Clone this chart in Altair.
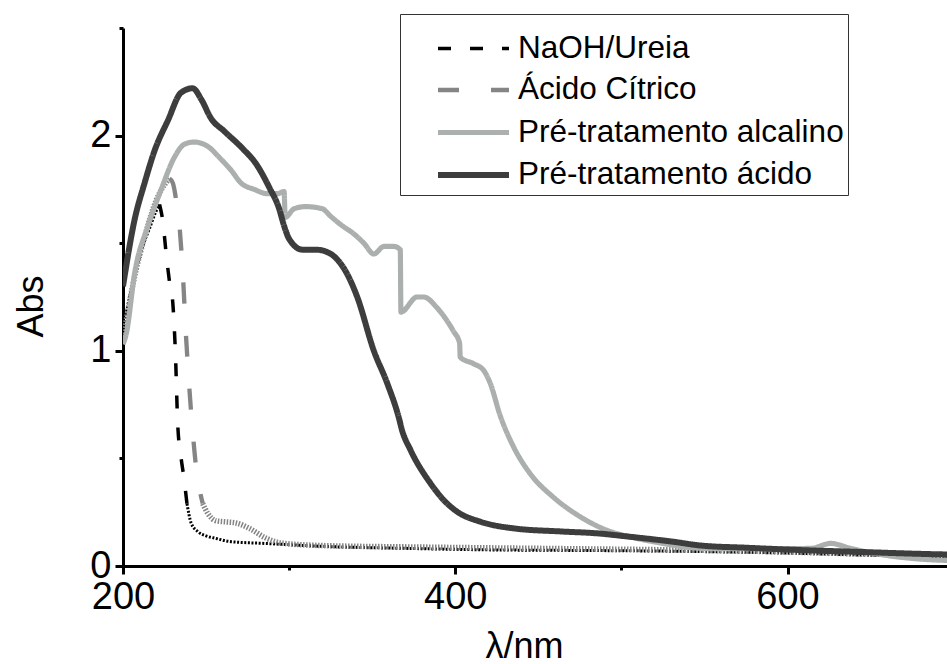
import altair as alt
import pandas as pd

SERIES = ["NaOH/Ureia", "Ácido Cítrico", "Pré-tratamento alcalino", "Pré-tratamento ácido"]
COLORS = ["#000000", "#858585", "#abafae", "#3d3d3d"]
DASHES = [[13, 19], [21, 32], [1, 0], [1, 0]]
WIDTHS = [3.5, 6, 3.6, 3.2]

# NaOH/Ureia
naoh_x = [200, 204, 208, 212, 216, 220, 222, 224, 226, 228, 230, 231.5, 233, 235, 236.5, 238.5,
          241, 245, 250, 256, 265, 285, 325, 370, 420, 480, 540, 600, 650, 700]
naoh_y = [1.10, 1.25, 1.38, 1.49, 1.57, 1.65, 1.68, 1.60, 1.45, 1.32, 1.22, 1.00, 0.65, 0.50, 0.42, 0.29,
          0.20, 0.16, 0.14, 0.128, 0.113, 0.105, 0.09, 0.082, 0.075, 0.072, 0.068, 0.06, 0.05, 0.043]

# Ácido Cítrico
cit_x = [200, 204, 208, 212, 216, 220, 224, 228, 230, 232, 234, 236, 238, 240, 242, 244, 246, 248,
         251, 256, 262, 268, 276, 286, 296, 320, 380, 450, 530, 600, 650, 700]
cit_y = [1.05, 1.23, 1.38, 1.50, 1.61, 1.70, 1.76, 1.80, 1.78, 1.70, 1.58, 1.36, 1.06, 0.82, 0.62, 0.46, 0.36, 0.29,
         0.245, 0.21, 0.205, 0.20, 0.175, 0.13, 0.106, 0.095, 0.088, 0.082, 0.075, 0.065, 0.055, 0.05]

# Pré-tratamento alcalino
alc_x = [200, 202, 207, 215, 223, 231, 237, 243, 251, 259, 265, 271, 279, 287, 293, 297, 297.6, 303, 310,
         320, 325, 334, 337, 345, 351, 357, 363, 366.9, 367.3, 377, 381, 389, 395, 399, 402.6, 403, 411,
         417, 421, 427, 435, 445, 459, 475, 491, 505, 525, 542, 560, 588, 614, 626, 638, 658, 682, 700]
alc_y = [1.03, 1.08, 1.36, 1.58, 1.75, 1.90, 1.96, 1.97, 1.95, 1.89, 1.84, 1.78, 1.75, 1.73, 1.73, 1.74, 1.62, 1.66, 1.67,
         1.66, 1.625, 1.57, 1.555, 1.50, 1.45, 1.485, 1.485, 1.47, 1.18, 1.25, 1.25, 1.20, 1.14, 1.09, 1.036, 0.97, 0.94,
         0.91, 0.85, 0.70, 0.555, 0.43, 0.32, 0.23, 0.167, 0.136, 0.105, 0.085, 0.08, 0.08, 0.082, 0.105, 0.082, 0.051, 0.031, 0.025]

# Pré-tratamento ácido
aci_x = [200, 207, 213, 219, 227, 235, 242, 247, 253, 261, 272, 280, 288, 294, 297, 300, 308, 316, 324, 330,
         334, 341, 351, 359, 366, 368, 373, 385, 393, 401, 415, 435, 465, 485, 505, 531, 548, 575, 608, 645, 682, 700]
aci_y = [1.30, 1.61, 1.78, 1.93, 2.07, 2.20, 2.22, 2.17, 2.08, 2.02, 1.94, 1.87, 1.76, 1.66, 1.58, 1.52, 1.47, 1.47, 1.455, 1.415,
         1.37, 1.25, 1.00, 0.85, 0.69, 0.63, 0.54, 0.385, 0.307, 0.253, 0.206, 0.175, 0.16, 0.152, 0.136, 0.113, 0.095, 0.085, 0.074, 0.065, 0.056, 0.053]

# x-ranges where the dashed curves are drawn with long dashes (elsewhere dense/dotted)
DASH_RANGE = {"NaOH/Ureia": (222, 238.5), "Ácido Cítrico": (228, 248)}
DENSE_DASH = {"NaOH/Ureia": [2, 1.6], "Ácido Cítrico": [1.5, 1.5]}

rows_main, rows_dense = [], []
for s, xs, ys in [(SERIES[0], naoh_x, naoh_y), (SERIES[1], cit_x, cit_y),
                  (SERIES[2], alc_x, alc_y), (SERIES[3], aci_x, aci_y)]:
    for x, y in zip(xs, ys):
        if s in DASH_RANGE:
            lo, hi = DASH_RANGE[s]
            if lo <= x <= hi:
                rows_main.append({"x": x, "y": y, "series": s})
            if x <= lo:
                rows_dense.append({"x": x, "y": y, "series": s, "seg": s + "_a"})
            if x >= hi:
                rows_dense.append({"x": x, "y": y, "series": s, "seg": s + "_b"})
        else:
            rows_main.append({"x": x, "y": y, "series": s})

df_main = pd.DataFrame(rows_main)
df_dense = pd.DataFrame(rows_dense)

FONT = "Liberation Sans"
XMIN, XMAX = 200, 696

x_enc = alt.X("x:Q", scale=alt.Scale(domain=[XMIN, XMAX], nice=False, zero=False),
              axis=alt.Axis(title="λ/nm", values=[200, 300, 400, 500, 600], labelFlush=False,
                            labelExpr="datum.value % 200 == 0 ? '' + datum.value : ''",
                            tickSize={"condition": {"test": "datum.value % 200 == 0", "value": 8}, "value": 4},
                            titleX=401, titleY=91, titleBaseline="alphabetic", titleAlign="center",
                            titleAnchor="middle"))
y_enc = alt.Y("y:Q", scale=alt.Scale(domain=[0, 2.5], nice=False),
              axis=alt.Axis(title="Abs", values=[0, 0.5, 1, 1.5, 2, 2.5], labelFlush=False,
                            labelExpr="datum.value % 1 == 0 ? '' + datum.value : ''",
                            tickSize={"condition": {"test": "datum.value % 1 == 0", "value": 8}, "value": 4},
                            titleX=-81, titleY=278, titleBaseline="alphabetic", titleAngle=-90,
                            titleAlign="center"))

dense_layers = []
for s in DENSE_DASH:
    sub = df_dense[df_dense["series"] == s]
    i = SERIES.index(s)
    dense_layers.append(
        alt.Chart(sub).mark_line(clip=True, strokeDash=DENSE_DASH[s], color=COLORS[i],
                                 strokeWidth=WIDTHS[i] - 0.5, strokeCap="butt",
                                 interpolate="monotone").encode(
            x=x_enc, y=y_enc, detail="seg:N", order="x:Q")
    )

main = alt.Chart(df_main).mark_line(clip=True, strokeCap="butt", interpolate="monotone").encode(
    x=x_enc, y=y_enc,
    color=alt.Color("series:N", scale=alt.Scale(domain=SERIES, range=COLORS),
                    legend=alt.Legend(title=" ")),
    strokeDash=alt.StrokeDash("series:N", scale=alt.Scale(domain=SERIES, range=DASHES),
                              legend=alt.Legend(title=" ")),
    strokeWidth=alt.StrokeWidth("series:N", scale=alt.Scale(domain=SERIES, range=WIDTHS),
                                legend=alt.Legend(title=" ")),
    order="x:Q",
)

chart = alt.layer(*dense_layers, main).properties(
    width=824, height=538,
    padding={"left": 123, "top": 28, "right": 0, "bottom": 98},
    autosize="none",
).configure_view(stroke=None).configure_axis(
    domainColor="black", domainWidth=3, tickColor="black", tickWidth=3,
    labelFont=FONT, labelFontSize=38, labelColor="black", labelPadding=4,
    titleFont=FONT, titleFontSize=36, titleColor="black", titleFontWeight="normal",
    grid=False,
).configure_legend(
    orient="none", legendX=277, legendY=-14,
    strokeColor="#333333", strokeWidth=1, fillColor="white",
    padding=4, symbolType="M-2,0H2", symbolSize=1260, symbolOffset=48.5,
    labelFont=FONT, labelFontSize=31.5, labelColor="black", labelOffset=23.5,
    rowPadding=6, labelLimit=500, titleFontSize=8, titlePadding=3,
)

chart.save("out.html", embed_options={"renderer": "svg", "actions": False})
